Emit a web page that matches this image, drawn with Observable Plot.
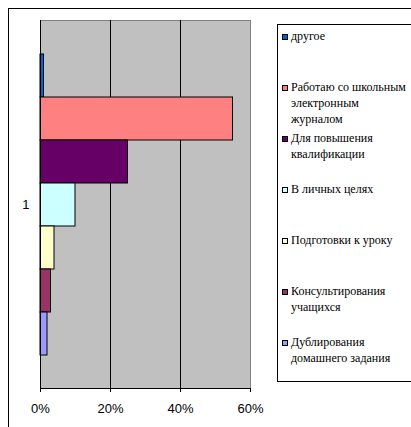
<!DOCTYPE html>
<html>
<head>
<meta charset="utf-8">
<script src="https://cdn.jsdelivr.net/npm/d3@7"></script>
<script src="https://cdn.jsdelivr.net/npm/@observablehq/plot@0.6"></script>
<style>
  html, body { margin: 0; padding: 0; background: #fff; }
  #wrap { position: relative; width: 411px; height: 427px; overflow: hidden; }
  #outer { position: absolute; left: 8px; top: 8px; width: 500px; height: 500px; border: 1px solid #000; box-sizing: border-box; }
  #chart { position: absolute; left: 0; top: 0; }
  #legend { position: absolute; left: 277px; top: 24px; width: 160px; height: 358px; border: 1px solid #000; box-sizing: border-box; background: #fff; color: #000; }
  .item { position: relative; height: 51px; padding-top: 3px; padding-left: 13px; box-sizing: border-box; line-height: 16px; white-space: nowrap;
          font-family: 'Liberation Serif', 'DejaVu Serif', serif; font-size: 12px; }
  .sw { position: absolute; left: 4px; top: 9px; width: 4px; height: 4px; border: 1px solid #000; }
</style>
</head>
<body>
<div id="wrap">
  <div id="outer"></div>
  <div id="chart"></div>
  <div id="legend"></div>
</div>
<script>
const categories = [
  "другое",
  "Работаю со школьным электронным журналом",
  "Для повышения квалификации",
  "В личных целях",
  "Подготовки к уроку",
  "Консультирования учащихся",
  "Дублирования домашнего задания"
];
const legendLines = [
  ["другое"],
  ["Работаю со школьным", "электронным", "журналом"],
  ["Для повышения", "квалификации"],
  ["В личных целях"],
  ["Подготовки к уроку"],
  ["Консультирования", "учащихся"],
  ["Дублирования", "домашнего задания"]
];
const values = [1, 55, 25, 10, 4, 3, 2];
const colors = ["#0066CC", "#FF8080", "#660066", "#CCFFFF", "#FFFFCC", "#993366", "#9999FF"];
const xTicks = [0, 20, 40, 60];
const groupLabel = ["1"];

const data = categories.map((c, i) => ({category: c, value: values[i]}));

const chart = Plot.plot({
  width: 260,
  height: 427,
  marginLeft: 40,
  marginRight: 10,
  marginTop: 20,
  marginBottom: 39,
  style: {background: "transparent", fontFamily: "'Liberation Sans', Arial, sans-serif", fontSize: "13px", color: "#000", overflow: "visible"},
  x: {domain: [0, 60], ticks: xTicks, tickFormat: d => d + "%", tickSize: 4, tickPadding: 11, label: null},
  y: {domain: categories, paddingInner: 0, paddingOuter: 0.75, axis: null},
  color: {domain: categories, range: colors},
  marks: [
    Plot.frame({fill: "#C0C0C0", stroke: "#808080"}),
    Plot.ruleX(xTicks.slice(1, -1), {stroke: "#000", strokeWidth: 1}),
    Plot.barX(data, {y: "category", x: "value", fill: "category", stroke: "#000", strokeWidth: 1}),
    Plot.ruleX([0], {stroke: "#000", strokeWidth: 1}),
    Plot.frame({anchor: "bottom", stroke: "#000"}),
    Plot.text(groupLabel, {text: d => d, frameAnchor: "left", dx: -11, textAnchor: "end", fill: "#000", fontSize: 13}),
    Plot.axisX({ticks: xTicks, tickFormat: d => d + "%", tickSize: 4, tickPadding: 11, stroke: "#000", fill: "#000"})
  ]
});
document.getElementById("chart").appendChild(chart);

const legend = document.getElementById("legend");
legendLines.forEach((lines, i) => {
  const item = document.createElement("div");
  item.className = "item";
  const sw = document.createElement("div");
  sw.className = "sw";
  sw.style.background = colors[i];
  item.appendChild(sw);
  lines.forEach(l => {
    const d = document.createElement("div");
    d.textContent = l;
    item.appendChild(d);
  });
  legend.appendChild(item);
});
</script>
</body>
</html>
